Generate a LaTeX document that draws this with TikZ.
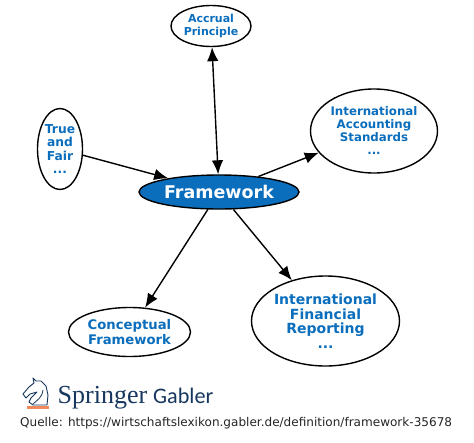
\documentclass[tikz,border=0pt]{standalone}
\usepackage{fontspec}
\setmainfont{DejaVu Sans}
\newfontfamily\logoserif{Liberation Serif}
\newfontfamily\logosans{Carlito}
\usetikzlibrary{shapes.geometric,arrows.meta}
\definecolor{fwblue}{HTML}{0A6EBD}
\definecolor{logoblue}{HTML}{17375E}
\definecolor{logoorange}{HTML}{F08A5D}
\tikzset{
  x=1pt,y=-1pt,
  topic/.style={ellipse,draw=black,line width=1.4pt,fill=white,inner sep=0pt,align=center,text=fwblue,font=\bfseries},
  link/.style={line width=1.4pt,draw=black,-{Latex[length=14pt,width=11.5pt]}},
  both/.style={link,{Latex[length=14pt,width=11.5pt]}-{Latex[length=14pt,width=11.5pt]}},
}
\begin{document}
\begin{tikzpicture}
\useasboundingbox (0,0) rectangle (474,442);
\fill[white] (0,0) rectangle (474,442);
\node[topic,minimum width=80pt,minimum height=41pt,font=\bfseries\fontsize{11}{12.5}\selectfont] (acc) at (211,26) {Accrual\\Principle};
\node[topic,minimum width=45pt,minimum height=81pt,font=\bfseries\fontsize{12.3}{13.5}\selectfont] (tf) at (60,149) {True\\and\\Fair\\...};
\node[topic,minimum width=127pt,minimum height=84pt,font=\bfseries\fontsize{11.8}{13}\selectfont] (ias) at (374,131) {International\\Accounting\\Standards\\...};
\node[topic,fill=fwblue,text=white,minimum width=160pt,minimum height=34pt,font=\bfseries\fontsize{17.5}{19}\selectfont] (fw) at (219,192) {Framework};
\node[topic,minimum width=122pt,minimum height=49pt,font=\bfseries\fontsize{13.2}{15}\selectfont] (cf) at (129.5,332) {Conceptual\\Framework};
\node[topic,minimum width=148pt,minimum height=90pt,font=\bfseries\fontsize{14}{14.5}\selectfont] (ifr) at (325.5,321) {International\\Financial\\Reporting\\...};
\draw[both] (acc) -- (fw);
\draw[link] (tf) -- (fw);
\draw[link] (fw) -- (ias);
\draw[link] (fw) -- (cf);
\draw[link] (fw) -- (ifr);
% logo
\draw[logoblue,line width=.9pt,line join=round]
  (33,378) -- (34,383) -- (29,387) -- (23,394) -- (26,398) -- (30,394) -- (37,392) -- (31,398) -- (29,402) -- (33,405) -- (47,405) -- (48,395) -- (46,386) -- (41,381) -- (36,381) -- cycle;
\draw[logoblue,line width=.8pt] (33,404) .. controls (37,400) and (42,398) .. (43,390);
\fill[logoorange] (27,406) rectangle (48.5,408.5);
\node[anchor=base west,inner sep=0pt,text=logoblue,font=\logoserif\fontsize{26}{26}\selectfont] (sp) at (57.5,403) {Springer};
\node[anchor=base west,inner sep=0pt,text=logoblue,font=\logosans\fontsize{22.2}{25}\selectfont] (ga) at (153,403) {Gabler};
\node[anchor=base west,inner sep=0pt,text=black!85,font=\fontsize{12.05}{14}\selectfont] (src) at (20,426) {Quelle: https://wirtschaftslexikon.gabler.de/definition/framework-35678};
\end{tikzpicture}
\end{document}
